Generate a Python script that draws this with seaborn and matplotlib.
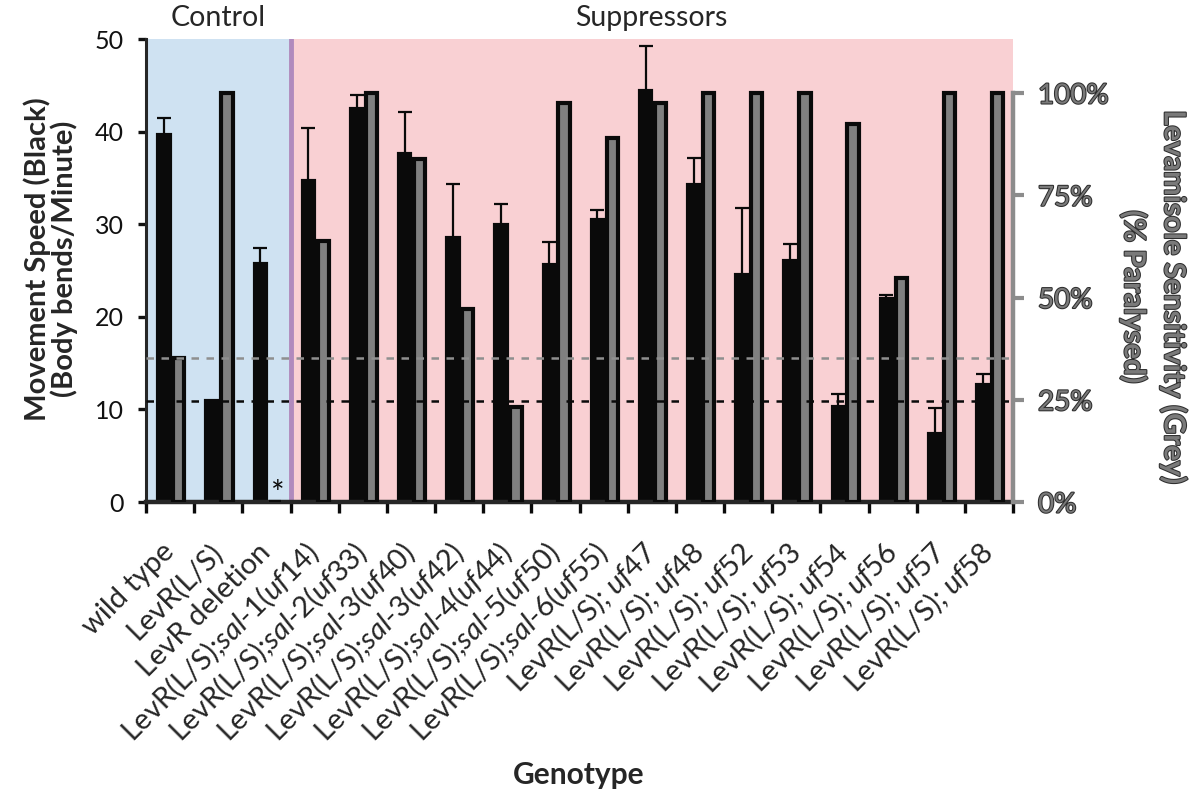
import numpy as np
import matplotlib
matplotlib.use("Agg")
import matplotlib.pyplot as plt
import matplotlib.patheffects as pe
from matplotlib.transforms import blended_transform_factory, ScaledTranslation
import seaborn as sns

genotypes = [
    "wild type",
    "LevR(L/S)",
    "LevR deletion",
    r"LevR(L/S);$\mathit{sal}$-$\mathit{1}$($\mathit{uf14}$)",
    r"LevR(L/S);$\mathit{sal}$-$\mathit{2}$($\mathit{uf33}$)",
    r"LevR(L/S);$\mathit{sal}$-$\mathit{3}$($\mathit{uf40}$)",
    r"LevR(L/S);$\mathit{sal}$-$\mathit{3}$($\mathit{uf42}$)",
    r"LevR(L/S);$\mathit{sal}$-$\mathit{4}$($\mathit{uf44}$)",
    r"LevR(L/S);$\mathit{sal}$-$\mathit{5}$($\mathit{uf50}$)",
    r"LevR(L/S);$\mathit{sal}$-$\mathit{6}$($\mathit{uf55}$)",
    r"LevR(L/S); $\mathit{uf47}$",
    r"LevR(L/S); $\mathit{uf48}$",
    r"LevR(L/S); $\mathit{uf52}$",
    r"LevR(L/S); $\mathit{uf53}$",
    r"LevR(L/S); $\mathit{uf54}$",
    r"LevR(L/S); $\mathit{uf56}$",
    r"LevR(L/S); $\mathit{uf57}$",
    r"LevR(L/S); $\mathit{uf58}$",
]

# movement speed (body bends / minute), black bars, with SEM (upper bars)
speed = [39.6, 10.9, 25.7, 34.7, 42.4, 37.6, 28.5, 29.9, 25.6, 30.5,
         44.4, 34.2, 24.5, 26.0, 10.3, 21.9, 7.3, 12.6]
speed_err = [1.9, 0.0, 1.7, 5.7, 1.6, 4.5, 5.8, 2.3, 2.5, 1.0,
             4.8, 2.9, 7.2, 1.9, 1.4, 0.5, 2.9, 1.2]

# levamisole sensitivity (% paralysed), grey bars
paralysed = [35.2, 100, 0, 63.8, 100, 83.9, 47.2, 23.2, 97.6, 89.0,
             97.6, 100, 100, 100, 92.4, 54.8, 100, 100]

speed_ticks = [0, 10, 20, 30, 40, 50]
pct_ticks = [0, 25, 50, 75, 100]
pct_labels = ["0%", "25%", "50%", "75%", "100%"]

n_control = 3
speed_threshold = speed[1]      # LevR(L/S) speed
paralysed_threshold = paralysed[0]  # wild type sensitivity

sns.set_style("ticks")
plt.rcParams.update({
    "font.family": ["Lato", "DejaVu Sans"],
    "mathtext.fontset": "custom",
    "mathtext.rm": "Lato",
    "mathtext.it": "Lato:italic",
    "axes.linewidth": 2.2,
})

BLACK = "#0a0a0a"
GREY = "#808080"
BLUE_BG = "#cfe2f2"
PINK_BG = "#f9d0d3"
PURPLE = "#b08abd"
AXIS_GREY = "#8c8c8c"


def main():
    fig = plt.figure(figsize=(11.98, 7.96), dpi=100)
    ax = fig.add_axes([0.1219, 0.3693, 0.7237, 0.5817])
    ax2 = ax.twinx()

    n = len(genotypes)
    idx = np.arange(n)
    off_black, off_grey, bw = -0.13, 0.18, 0.235

    # background regions
    ax.axvspan(-0.5, n_control - 0.5, color=BLUE_BG, zorder=0, lw=0)
    ax.axvspan(n_control - 0.5, n - 0.5, color=PINK_BG, zorder=0, lw=0)
    ax.axvline(n_control - 0.5, color=PURPLE, lw=3.5, zorder=0.5)

    # black bars: movement speed
    sns.barplot(x=idx + off_black, y=speed, native_scale=True, width=bw,
                color=BLACK, edgecolor=BLACK, linewidth=3, saturation=1,
                errorbar=None, ax=ax, zorder=2)
    ax.errorbar(idx + off_black, speed, yerr=speed_err, fmt="none",
                ecolor=BLACK, elinewidth=1.6, capsize=4.8, capthick=1.6,
                zorder=3)

    # grey bars: paralysis
    sns.barplot(x=idx + off_grey, y=paralysed, native_scale=True, width=bw,
                color=GREY, edgecolor=BLACK, linewidth=3, saturation=1,
                errorbar=None, ax=ax2, zorder=2)

    # threshold lines
    ax2.axhline(paralysed_threshold, color="#8f8f8f", lw=1.8,
                dashes=(3, 3), zorder=5)
    ax2.plot([0, 1], [speed_threshold, speed_threshold], color=BLACK, lw=1.8,
             dashes=(3, 3), zorder=5,
             transform=blended_transform_factory(ax2.transAxes, ax.transData))

    # asterisk where no paralysis
    ax2.text(2 + off_grey + 0.05, 1.7, "*", ha="center", va="center",
             fontsize=23, color=BLACK, zorder=6)

    # left axis
    ax.set_xlim(-0.5, n - 0.5)
    ax.set_ylim(0, 50)
    ax.set_yticks(speed_ticks)
    ax.set_xticks(idx)
    ax.set_xticklabels(genotypes, rotation=45, ha="right", va="center",
                       rotation_mode="anchor", fontsize=21)
    shift = ScaledTranslation(-0.08, 0, fig.dpi_scale_trans)
    for lab in ax.get_xticklabels():
        lab.set_transform(lab.get_transform() + shift)
    ax.set_xticks(np.arange(-0.5, n, 1.0), minor=True)
    ax.tick_params(axis="x", which="major", length=0, pad=33)
    ax.tick_params(axis="x", which="minor", length=8, width=2.4,
                   direction="out", color=BLACK)
    ax.tick_params(axis="y", length=6, width=2.4, direction="out",
                   labelsize=18, colors="#111111", pad=10)
    ax.spines["bottom"].set_linewidth(3.2)
    ax.spines["bottom"].set_zorder(6)
    for s in ("top", "right"):
        ax.spines[s].set_visible(False)
    ax.set_xlabel("")
    ax.set_ylabel("Movement Speed (Black)\n(Body bends/Minute)",
                  fontsize=21, fontweight="bold", linespacing=1.0)
    ax.yaxis.set_label_coords(-0.078, 0.525)

    # right axis
    ax2.set_xlim(-0.5, n - 0.5)
    ax2.set_ylim(0, 113.2)
    ax2.set_yticks(pct_ticks, labels=pct_labels)
    ax2.tick_params(axis="y", length=8, width=3, direction="out",
                    colors=AXIS_GREY, labelsize=20, pad=10)
    for t in ax2.get_yticklabels():
        t.set_color("#7a7a7a")
        t.set_path_effects([pe.withStroke(linewidth=1.5, foreground="#2e2e2e")])
    for s in ("top", "left", "bottom"):
        ax2.spines[s].set_visible(False)
    ax2.spines["right"].set_color(AXIS_GREY)
    ax2.spines["right"].set_linewidth(3.2)
    ax2.spines["right"].set_bounds(0, 100)
    ax2.set_ylabel("Levamisole Sensitivity (Grey)\n(% Paralysed)",
                   fontsize=21, fontweight="bold", rotation=270,
                   color="#7a7a7a", linespacing=1.55,
                   path_effects=[pe.withStroke(linewidth=1.5,
                                               foreground="#2e2e2e")])
    ax2.yaxis.set_label_coords(1.201, 0.443)
    ax2.set_xlabel("")

    # group labels
    tr = blended_transform_factory(ax.transData, ax.transAxes)
    ax.text((n_control - 1) / 2, 1.045, "Control", transform=tr,
            ha="center", va="center", fontsize=20.5)
    ax.text((n_control + n - 1) / 2, 1.045, "Suppressors",
            transform=tr, ha="center", va="center", fontsize=20.5)

    fig.text(579 / 1198, 1 - 775 / 796, "Genotype", ha="center",
             va="center", fontsize=21.5, fontweight="bold")

    fig.savefig("out.png", dpi=100)
    plt.close(fig)


if __name__ == "__main__":
    main()
